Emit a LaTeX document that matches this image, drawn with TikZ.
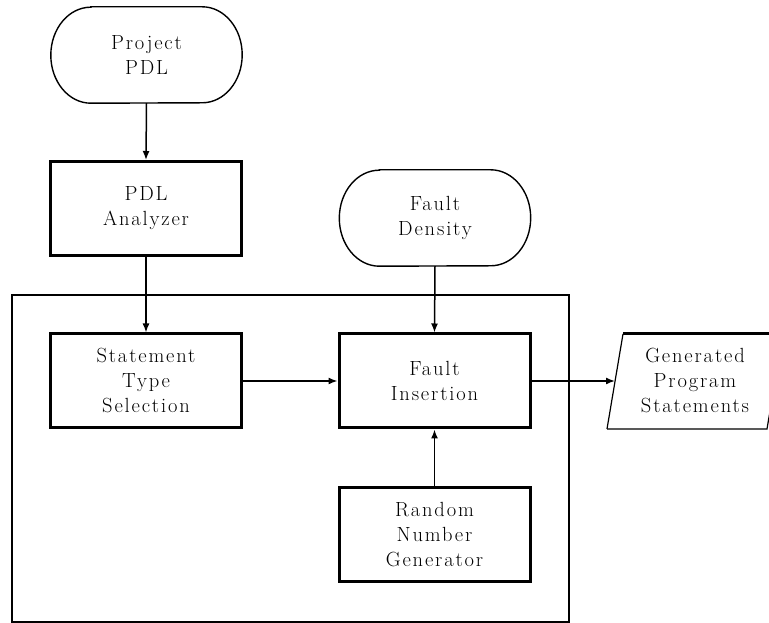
\documentclass[tikz,border=0pt]{standalone}
\usepackage{fontspec}
\setmainfont{Latin Modern Roman}[LetterSpace=9]
\usetikzlibrary{arrows.meta,calc}
\tikzset{
  box/.style={draw, line width=3pt, minimum width=191pt, minimum height=94pt, align=center, inner sep=0pt},
  term/.style={minimum width=191pt, minimum height=96pt, align=center, inner sep=0pt},
  conn/.style={line width=1.5pt, -{Latex[length=9pt,width=7pt]}},
  frame/.style={line width=2pt},
}
\begin{document}
\begin{tikzpicture}[x=1pt,y=1pt, every node/.append style={font=\fontsize{20.5}{25}\selectfont}]
\useasboundingbox (0,0) rectangle (769,623);
% outer frame
\draw[frame] (12,1) rectangle (569,328);
% terminals
\node[term] (pp) at (146.5,568) {Project\\PDL};
\draw[line width=1.4pt] ($(pp.north west)+(40,0)$) -- ($(pp.north east)+(-40,0)$)
  arc[start angle=90,end angle=-90,x radius=40,y radius=48]
  -- ($(pp.south west)+(40,0)$)
  arc[start angle=270,end angle=90,x radius=40,y radius=48] -- cycle;
\node[term] (fd) at (435,405) {Fault\\Density};
\draw[line width=1.4pt] ($(fd.north west)+(40,0)$) -- ($(fd.north east)+(-40,0)$)
  arc[start angle=90,end angle=-90,x radius=40,y radius=48]
  -- ($(fd.south west)+(40,0)$)
  arc[start angle=270,end angle=90,x radius=40,y radius=48] -- cycle;
% boxes
\node[box] (pa) at (146,414.5) {PDL\\Analyzer};
\node[box] (sts) at (146,242) {Statement\\Type\\Selection};
\node[box] (fi) at (434.5,242) {Fault\\Insertion};
\node[box] (rng) at (434.5,88) {Random\\Number\\Generator};
% document
\node[align=center, inner sep=0pt] (doc) at (695,242) {Generated\\Program\\Statements};
\coordinate (d1) at (607,194);
\coordinate (d2) at (767,194);
\coordinate (d3) at (783,289);
\coordinate (d4) at (623,289);
\coordinate (docin) at (615,242);
\draw[line width=1.2pt] (d1) -- (d2) -- (d3);
\draw[line width=1.2pt] (d4) -- (d1);
\draw[line width=3pt] (d3) -- (d4);
% connectors
\draw[conn] (pp.south) -- (pa.north);
\draw[conn] (pa.south) -- (sts.north);
\draw[conn] (fd.south) -- (fi.north);
\draw[conn] (sts.east) -- (fi.west);
\draw[conn] (rng.north) -- (fi.south);
\draw[conn] (fi.east) -- (docin);
\end{tikzpicture}
\end{document}
